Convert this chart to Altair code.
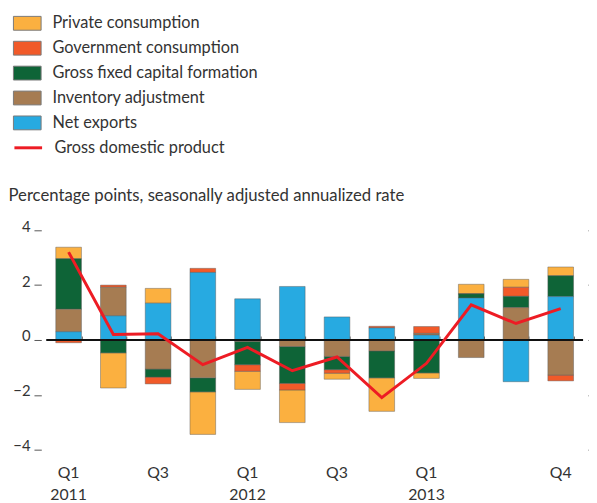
import json
import altair as alt
import pandas as pd

quarters = ["2011 Q1", "2011 Q2", "2011 Q3", "2011 Q4",
            "2012 Q1", "2012 Q2", "2012 Q3", "2012 Q4",
            "2013 Q1", "2013 Q2", "2013 Q3", "2013 Q4"]
tick_labels = ["Q1\n2011", "", "Q3", "", "Q1\n2012", "", "Q3", "",
               "Q1\n2013", "", "", "Q4"]

components = ["Private consumption", "Government consumption",
              "Gross fixed capital formation", "Inventory adjustment",
              "Net exports"]
colors = ["#FBB040", "#F15A29", "#0E6437", "#A67C52", "#27AAE1"]
# stacking rank outward from zero
stack_rank = {"Net exports": 0, "Inventory adjustment": 1,
              "Gross fixed capital formation": 2,
              "Government consumption": 3, "Private consumption": 4}

private_cons = [0.42, -1.28, 0.54, -1.55, -0.66, -1.19, -0.22, -1.22, -0.20, 0.35, 0.29, 0.32]
gov_cons     = [-0.10, 0.08, -0.25, 0.15, -0.24, -0.24, -0.13, 0.06, 0.25, 0.00, 0.33, -0.21]
gfcf         = [1.84, -0.47, -0.29, -0.51, -0.85, -1.34, -0.48, -0.98, -1.20, 0.15, 0.41, 0.76]
inventory    = [0.82, 1.04, -1.06, -1.38, -0.05, -0.24, -0.60, -0.40, 0.06, -0.64, 1.18, -1.28]
net_exports  = [0.30, 0.88, 1.34, 2.46, 1.50, 1.95, 0.84, 0.44, 0.18, 1.53, -1.52, 1.58]
gdp          = [3.20, 0.20, 0.23, -0.90, -0.27, -1.12, -0.62, -2.10, -0.85, 1.28, 0.60, 1.14]

series = {"Private consumption": private_cons,
          "Government consumption": gov_cons,
          "Gross fixed capital formation": gfcf,
          "Inventory adjustment": inventory,
          "Net exports": net_exports}

rows = []
for comp, vals in series.items():
    for q, v in zip(quarters, vals):
        rows.append({"quarter": q, "component": comp, "value": v,
                     "rank": stack_rank[comp]})
bars_df = pd.DataFrame(rows)
gdp_df = pd.DataFrame({"quarter": quarters, "gdp": gdp,
                       "series": ["Gross domestic product"] * len(quarters)})
zero_df = pd.DataFrame({"z": [0]})

FONT = "Lato"
TXT = "#333333"
W, H = 543.3, 250
ydom = [-4.5, 4.5]
zero_px = H / 2

label_expr = ("[" + ",".join(json.dumps(l.split("\n")) for l in tick_labels) + "]"
              + "[indexof(" + json.dumps(quarters) + ", datum.value)]")

xscale = alt.Scale(domain=quarters, paddingInner=0.426, paddingOuter=0.213)
yscale = alt.Scale(domain=ydom, nice=False, zero=False)

bars = alt.Chart(bars_df).mark_bar(
    stroke="#555555", strokeOpacity=0.55, strokeWidth=0.8
).encode(
    x=alt.X("quarter:N", scale=xscale, sort=quarters,
            axis=alt.Axis(orient="bottom", title=None, domain=False, ticks=False,
                          labelExpr=label_expr, labelAngle=0, labelFont=FONT,
                          labelFontSize=16, labelColor=TXT, labelLineHeight=22,
                          labelBaseline="top", labelPadding=1)),
    y=alt.Y("value:Q", stack="zero", scale=yscale,
            axis=alt.Axis(orient="left",
                          title="Percentage points, seasonally adjusted annualized rate",
                          titleAngle=0, titleX=-33.7, titleY=-16, titleAlign="left",
                          titleBaseline="alphabetic", titleFont=FONT, titleFontSize=16.9,
                          titleFontWeight="normal", titleColor=TXT,
                          domain=False, grid=False,
                          values=[-4, -2, 0, 2, 4], offset=5, tickSize=7.4,
                          tickColor="#555555", labelPadding=4, labelFont=FONT,
                          labelFontSize=15, labelColor=TXT,
                          labelBaseline="alphabetic", labelOffset=1)),
    fill=alt.Fill("component:N",
                  scale=alt.Scale(domain=components, range=colors),
                  legend=alt.Legend(orient="none", legendX=-33.7, legendY=-210,
                                    title=None, padding=0,
                                    symbolType="M-1,-0.5H1V0.5H-1Z",
                                    symbolSize=784, symbolStrokeColor="#7a7a7a",
                                    symbolStrokeWidth=1, symbolOpacity=1,
                                    labelFont=FONT, labelFontSize=16.5,
                                    labelColor=TXT, labelOffset=11,
                                    labelLimit=0, rowPadding=1.2)),
    order=alt.Order("rank:Q", sort="ascending"),
)

zero_rule = alt.Chart(zero_df).mark_rule(color="#111111", strokeWidth=2).encode(
    y=alt.Y("z:Q", scale=yscale, axis=None)
)

line = alt.Chart(gdp_df).mark_line(strokeWidth=3).encode(
    x=alt.X("quarter:N", scale=xscale, sort=quarters,
            axis=alt.Axis(orient="top", offset=-zero_px, title=None, labels=False,
                          domain=False, ticks=True, tickBand="extent", tickSize=4,
                          tickColor="#555555", tickWidth=1)),
    y=alt.Y("gdp:Q", scale=yscale,
            axis=alt.Axis(orient="right", title=None, labels=False, domain=False,
                          grid=False, values=[-4, -2, 0, 2, 4], offset=5,
                          tickSize=4, tickColor="#555555")),
    stroke=alt.Stroke("series:N",
                      scale=alt.Scale(domain=["Gross domestic product"],
                                      range=["#ED1C24"]),
                      legend=alt.Legend(orient="none", legendX=-33.7, legendY=-85,
                                        title=None, padding=0, symbolType="stroke",
                                        symbolSize=784, symbolStrokeWidth=3,
                                        labelFont=FONT, labelFontSize=16.5,
                                        labelColor=TXT, labelOffset=11,
                                        labelLimit=0)),
)

chart = alt.layer(bars, zero_rule, line).resolve_axis(
    x="independent", y="independent"
).resolve_legend(fill="independent", stroke="independent").properties(
    width=W, height=H,
    background="white",
    padding={"left": 38.7, "top": 208, "right": 6, "bottom": 38},
    autosize=alt.AutoSizeParams(type="none"),
).configure_view(stroke=None)

chart.save("out.html", embed_options={"renderer": "svg", "actions": False})
